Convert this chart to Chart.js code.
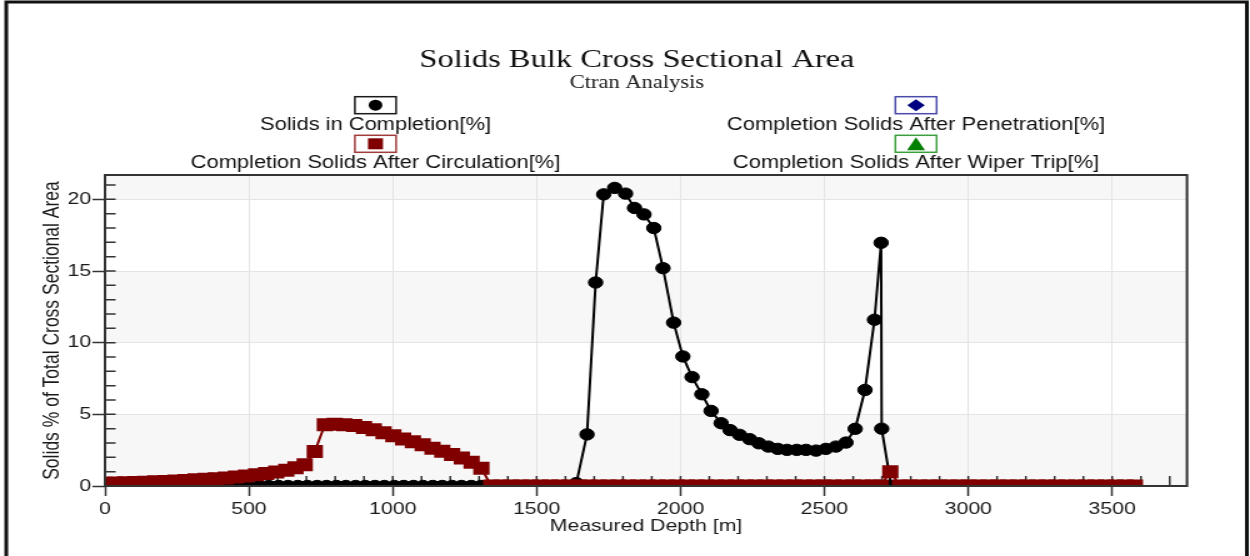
<!DOCTYPE html>
<html>
<head>
<meta charset="utf-8">
<title>Solids Bulk Cross Sectional Area</title>
<script src="https://cdn.jsdelivr.net/npm/chart.js@4.4.1/dist/chart.umd.min.js"></script>
<style>
    html, body { margin: 0; background: #fff; }
</style>
</head>
<body>
<!-- drawn at 1000 wide and stretched to 1250 on screen -->
<canvas id="solidsChart" width="1000" height="556" style="display:block;width:1250px;height:556px"></canvas>
<script>
// eixos
const xTicks = [0, 500, 1000, 1500, 2000, 2500, 3000, 3500]
const yTicks = [0, 5, 10, 15, 20]

const chartTitle = 'Solids Bulk Cross Sectional Area'
const chartSubtitle = 'Ctran Analysis'

const seriesLabels = [
    'Solids in Completion[%]',
    'Completion Solids After Circulation[%]',
    'Completion Solids After Penetration[%]',
    'Completion Solids After Wiper Trip[%]'
]

// Solids in Completion [%] x profundidade [m]
const completionDepth = [
    0, 33, 67, 100, 134, 167, 201, 234, 268, 301,
    335, 368, 402, 435, 469, 502, 536, 569, 603, 636,
    670, 703, 737, 770, 804, 837, 871, 904, 938, 971,
    1005, 1038, 1072, 1105, 1139, 1172, 1206, 1239, 1273, 1306,
    1340, 1373, 1407, 1440, 1474, 1507, 1541, 1574, 1608,
    1638, 1675, 1705, 1733, 1771, 1809, 1840, 1873, 1907, 1939,
    1976, 2008, 2040, 2074, 2106, 2141, 2172, 2205, 2240, 2272,
    2305, 2338, 2370, 2404, 2436, 2471, 2505, 2540, 2575, 2607,
    2641, 2674, 2697, 2699,
    2732, 2766, 2799, 2833, 2866, 2900, 2933, 2967, 3000, 3034,
    3067, 3101, 3134, 3168, 3201, 3235, 3268, 3302, 3335, 3369,
    3402, 3436, 3469, 3503, 3536, 3570
]
const completionSolids = [
    0, 0, 0, 0, 0, 0, 0, 0, 0, 0,
    0, 0, 0, 0, 0, 0, 0, 0, 0, 0,
    0, 0, 0, 0, 0, 0, 0, 0, 0, 0,
    0, 0, 0, 0, 0, 0, 0, 0, 0, 0,
    0, 0, 0, 0, 0, 0, 0, 0, 0,
    0.2, 3.6, 14.2, 20.35, 20.8, 20.4, 19.4, 18.95, 18.0, 15.2,
    11.4, 9.04, 7.6, 6.4, 5.24, 4.38, 3.9, 3.57, 3.27, 2.98,
    2.75, 2.59, 2.52, 2.52, 2.52, 2.47, 2.59, 2.75, 3.03, 3.99,
    6.7, 11.6, 16.97, 4.0,
    0, 0, 0, 0, 0, 0, 0, 0, 0, 0,
    0, 0, 0, 0, 0, 0, 0, 0, 0, 0,
    0, 0, 0, 0, 0, 0
]

// Completion Solids After Circulation [%]
const circulationDepth = [
    0, 35, 70, 105, 140, 175, 210, 245, 280, 315,
    350, 385, 420, 455, 490, 525, 560, 595, 630, 662,
    694, 729,
    764, 798, 832, 866, 900, 934, 968, 1002, 1036, 1070,
    1104, 1138, 1172, 1206, 1240, 1274, 1308,
    1342, 1376, 1410, 1444, 1478, 1512, 1546, 1580, 1614, 1648,
    1682, 1716, 1750, 1784, 1818, 1852, 1886, 1920, 1954, 1988,
    2022, 2056, 2090, 2124, 2158, 2192, 2226, 2260, 2294, 2328,
    2362, 2396, 2430, 2464, 2498, 2532, 2566, 2600, 2634, 2668,
    2695, 2729,
    2763, 2797, 2831, 2865, 2899, 2933, 2967, 3001, 3035, 3069,
    3103, 3137, 3171, 3205, 3239, 3273, 3307, 3341, 3375, 3409,
    3443, 3477, 3511, 3545, 3579
]
const circulationSolids = [
    0.2, 0.21, 0.23, 0.25, 0.27, 0.29, 0.32, 0.35, 0.39, 0.43,
    0.47, 0.51, 0.56, 0.62, 0.7, 0.78, 0.87, 0.98, 1.1, 1.27,
    1.48, 2.4,
    4.27, 4.31, 4.28, 4.22, 4.08, 3.92, 3.72, 3.5, 3.28, 3.08,
    2.87, 2.64, 2.43, 2.2, 1.95, 1.65, 1.24,
    0, 0, 0, 0, 0, 0, 0, 0, 0, 0,
    0, 0, 0, 0, 0, 0, 0, 0, 0, 0,
    0, 0, 0, 0, 0, 0, 0, 0, 0, 0,
    0, 0, 0, 0, 0, 0, 0, 0, 0, 0,
    0, 1.0,
    0, 0, 0, 0, 0, 0, 0, 0, 0, 0,
    0, 0, 0, 0, 0, 0, 0, 0, 0, 0,
    0, 0, 0, 0, 0
]

// sem pontos nesta analise
const penetrationDepth = []
const penetrationSolids = []
const wiperTripDepth = []
const wiperTripSolids = []

const toPoints = (depths, values) => depths.map((x, i) => ({x: x, y: values[i]}))

Chart.defaults.font.family = '"Liberation Sans", Arial, sans-serif'

function drawMarker(ctx, style, x, y, color) {
    ctx.fillStyle = color
    ctx.beginPath()
    if (style === 'circle') {
        ctx.arc(x, y, 5.5, 0, Math.PI * 2)
    } else if (style === 'rect') {
        ctx.rect(x - 6, y - 5.5, 12, 11)
    } else if (style === 'rectRot') {
        ctx.moveTo(x, y - 6)
        ctx.lineTo(x + 7, y)
        ctx.lineTo(x, y + 6)
        ctx.lineTo(x - 7, y)
        ctx.closePath()
    } else if (style === 'triangle') {
        ctx.moveTo(x, y - 6.5)
        ctx.lineTo(x + 7.2, y + 6.5)
        ctx.lineTo(x - 7.2, y + 6.5)
        ctx.closePath()
    }
    ctx.fill()
}

// fundo em faixas, ticks menores, moldura, titulo e legenda empilhada
const framePlugin = {
    id: 'frame',
    beforeDraw(chart) {
        const {ctx, chartArea: a, scales: {y}} = chart
        ctx.save()
        ctx.fillStyle = '#fff'
        ctx.fillRect(0, 0, chart.width, chart.height)
        const edges = [...yTicks, y.max]
        ctx.fillStyle = '#f7f7f7'
        for (let i = 0; i < edges.length - 1; i += 2) {
            const top = y.getPixelForValue(edges[i + 1])
            const bottom = y.getPixelForValue(edges[i])
            ctx.fillRect(a.left, top, a.right - a.left, bottom - top)
        }
        ctx.restore()
    },
    beforeDatasetsDraw(chart) {
        const {ctx, chartArea: a, scales: {x, y}} = chart
        ctx.save()
        ctx.strokeStyle = '#333'
        ctx.lineWidth = 1.5
        ctx.beginPath()
        for (let v = 0; v <= x.max; v += 100) {
            const px = x.getPixelForValue(v)
            ctx.moveTo(px, a.bottom)
            ctx.lineTo(px, a.bottom - 10)
        }
        for (let v = 0; v <= y.max; v += 1) {
            const py = y.getPixelForValue(v)
            ctx.moveTo(a.left, py)
            ctx.lineTo(a.left + 8.5, py)
        }
        ctx.stroke()
        ctx.restore()
    },
    afterDatasetsDraw(chart) {
        const {ctx, chartArea: a} = chart
        ctx.save()
        ctx.strokeStyle = '#333'
        ctx.lineWidth = 2
        ctx.strokeRect(a.left, a.top, a.right - a.left, a.bottom - a.top)
        ctx.restore()
    },
    afterDraw(chart) {
        const ctx = chart.ctx
        const centerX = 509.6

        ctx.save()
        ctx.textAlign = 'center'
        ctx.textBaseline = 'middle'
        ctx.fillStyle = '#111'
        ctx.font = '26px "Liberation Serif", serif'
        ctx.fillText(chartTitle, centerX, 60)
        ctx.fillStyle = '#222'
        ctx.font = '18px "Liberation Serif", serif'
        ctx.fillText(chartSubtitle, centerX, 83)
        ctx.restore()

        const columns = [300.4, 732.8]
        const boxTop = [96.7, 135.3]
        const textY = [125, 163.5]

        chart.data.datasets.forEach((ds, i) => {
            const cx = columns[Math.floor(i / 2)]
            const row = i % 2
            ctx.save()
            ctx.lineWidth = 1.5
            ctx.strokeStyle = ds.boxColor
            ctx.fillStyle = '#fff'
            ctx.fillRect(cx - 16.5, boxTop[row], 33, 17)
            ctx.strokeRect(cx - 16.5, boxTop[row], 33, 17)
            drawMarker(ctx, ds.pointStyle, cx, boxTop[row] + 8.5, ds.borderColor)
            ctx.fillStyle = '#111'
            ctx.font = '17.5px "Liberation Sans", Arial, sans-serif'
            ctx.textAlign = 'center'
            ctx.textBaseline = 'middle'
            ctx.fillText(ds.label, cx, textY[row])
            ctx.restore()
        })

        // borda externa
        ctx.save()
        ctx.strokeStyle = '#111'
        ctx.lineWidth = 3
        ctx.strokeRect(5, 2, 992.5, 600)
        ctx.restore()
    }
}

const axisFont = {size: 17}

new Chart(document.getElementById('solidsChart'), {
    type: 'line',
    data: {
        datasets: [
            {
                label: seriesLabels[0],
                data: toPoints(completionDepth, completionSolids),
                borderColor: '#000000',
                backgroundColor: '#000000',
                borderWidth: 2,
                pointStyle: 'circle',
                pointRadius: 5.7,
                pointBorderWidth: 1,
                order: 1,
                boxColor: '#1a1a1a'
            },
            {
                label: seriesLabels[1],
                data: toPoints(circulationDepth, circulationSolids),
                borderColor: '#800000',
                backgroundColor: '#800000',
                borderWidth: 2,
                pointStyle: 'rect',
                pointRadius: 9.2,
                pointBorderWidth: 0,
                order: 0,
                boxColor: '#a23c3c'
            },
            {
                label: seriesLabels[2],
                data: toPoints(penetrationDepth, penetrationSolids),
                borderColor: '#000080',
                backgroundColor: '#000080',
                borderWidth: 2,
                pointStyle: 'rectRot',
                pointRadius: 7,
                order: 2,
                boxColor: '#4b4bab'
            },
            {
                label: seriesLabels[3],
                data: toPoints(wiperTripDepth, wiperTripSolids),
                borderColor: '#008000',
                backgroundColor: '#008000',
                borderWidth: 2,
                pointStyle: 'triangle',
                pointRadius: 7,
                order: 3,
                boxColor: '#3c9f3c'
            }
        ]
    },
    options: {
        responsive: false,
        devicePixelRatio: 1,
        animation: false,
        events: [],
        datasets: {
            line: {clip: 0, tension: 0, fill: false}
        },
        layout: {
            padding: {left: 0, right: 50.4, top: 175, bottom: 0}
        },
        plugins: {
            legend: {display: false},
            tooltip: {enabled: false},
            title: {display: false}
        },
        scales: {
            x: {
                type: 'linear',
                min: 0,
                max: 3760,
                afterBuildTicks: scale => {
                    scale.ticks = xTicks.map(value => ({value}))
                },
                afterFit: scale => {
                    scale.height = 70
                },
                ticks: {
                    callback: value => String(value),
                    color: '#1a1a1a',
                    font: axisFont,
                    padding: 3,
                    maxRotation: 0,
                    autoSkip: false
                },
                grid: {color: '#e4e4e4', lineWidth: 1, tickColor: '#333', tickWidth: 1.5, tickLength: 10},
                border: {display: false},
                title: {
                    display: true,
                    text: 'Measured Depth [m]',
                    color: '#1a1a1a',
                    font: axisFont,
                    padding: {top: 0, bottom: 19}
                }
            },
            y: {
                type: 'linear',
                min: 0,
                max: 21.7,
                afterBuildTicks: scale => {
                    scale.ticks = yTicks.map(value => ({value}))
                },
                afterFit: scale => {
                    scale.width = 84
                },
                ticks: {
                    callback: value => String(value),
                    color: '#1a1a1a',
                    font: axisFont,
                    padding: 1
                },
                grid: {color: '#e4e4e4', lineWidth: 1, tickColor: '#333', tickWidth: 1.5, tickLength: 10},
                border: {display: false},
                title: {
                    display: true,
                    text: 'Solids % of Total Cross Sectional Area',
                    color: '#1a1a1a',
                    font: {size: 17.5},
                    padding: {top: 31.6, bottom: 0}
                }
            }
        }
    },
    plugins: [framePlugin]
})
</script>
</body>
</html>
